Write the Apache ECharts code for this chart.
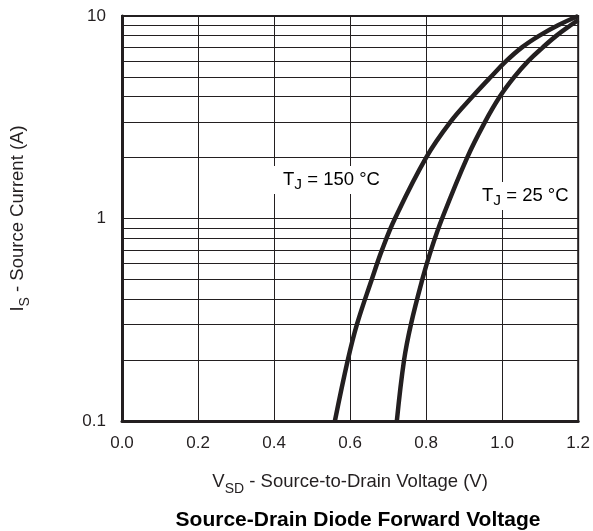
<!DOCTYPE html>
<html>
<head>
<meta charset="utf-8">
<script src="https://cdn.jsdelivr.net/npm/echarts@6/dist/echarts.min.js"></script>
<style>html,body{margin:0;padding:0;background:#fff;}#c{width:593px;height:531px;}</style>
</head>
<body>
<div id="c"></div>
<script>
// Data
const current150 = [0.1,0.2,0.3,0.5,0.7,1,2,3,4,5,6,7,8,9,10];
const voltage150 = [0.56,0.594,0.618,0.657,0.684,0.718,0.800,0.864,0.922,0.970,1.011,1.052,1.098,1.147,1.2];
const current25 = [0.1,0.2,0.3,0.5,0.7,1,2,3,4,5,6,7,8,9,9.55];
const voltage25 = [0.723,0.742,0.760,0.790,0.813,0.842,0.908,0.955,0.994,1.032,1.069,1.107,1.143,1.180,1.2];
const xTicks = ['0.0','0.2','0.4','0.6','0.8','1.0','1.2'];
const yTicks = ['0.1','1','10'];
const minorGrid = [0.2,0.3,0.4,0.5,0.6,0.7,0.8,0.9,2,3,4,5,6,7,8,9];
const seriesNames = ['TJ = 150 °C','TJ = 25 °C'];

const FONT = 'Liberation Sans, Arial, Helvetica, sans-serif';
const INK = '#231f20';
const chart = echarts.init(document.getElementById('c'), null, {renderer:'canvas'});
const pairs = (xs, ys) => xs.map((x,i)=>[x, ys[i]]);
const axisRich = {
  n:{fontFamily:FONT,fontSize:18.5,color:INK},
  s:{fontFamily:FONT,fontSize:14,color:INK,padding:[14,0,0,0]}
};
const labelRich = {
  n:{fontFamily:FONT,fontSize:18.5,color:INK},
  s:{fontFamily:FONT,fontSize:15.5,color:INK,padding:[10,0,0,0]}
};
chart.setOption({
  animation:false,
  backgroundColor:'#fff',
  title:{text:'Source-Drain Diode Forward Voltage',left:353,top:505,textAlign:'center',
    textStyle:{fontFamily:FONT,fontSize:21,fontWeight:'bold',color:'#000'}},
  grid:{left:122,right:8,top:16,bottom:110,show:true,borderColor:INK,borderWidth:2,containLabel:false},
  xAxis:{type:'value',min:0,max:1.2,interval:0.2,
    name:'{n|V}{s|SD}{n| - Source-to-Drain Voltage (V)}',nameLocation:'middle',nameGap:47,
    nameTextStyle:{rich:axisRich},
    axisLine:{show:true,onZero:false,lineStyle:{color:INK,width:3}},
    axisTick:{show:false},
    axisLabel:{margin:14,fontFamily:FONT,fontSize:17,color:INK,
      formatter:(v)=>xTicks[Math.round(v/0.2)]},
    splitLine:{show:true,lineStyle:{color:INK,width:1}}},
  yAxis:{type:'log',logBase:10,min:0.1,max:10,
    name:'{n|I}{s|S}{n| - Source Current (A)}',nameLocation:'middle',nameGap:90,nameRotate:90,
    nameTextStyle:{rich:axisRich},
    axisLine:{show:true,onZero:false,lineStyle:{color:INK,width:3}},
    axisTick:{show:false},
    minorTick:{show:false},
    axisLabel:{margin:16,fontFamily:FONT,fontSize:17,color:INK,
      formatter:(v)=>{const k=Math.round(Math.log10(v))+1;return yTicks[k]!==undefined?yTicks[k]:'';}},
    splitLine:{show:true,lineStyle:{color:INK,width:1}}},
  series:[
    {type:'line',name:'grid',data:[],z:1,silent:true,
      markLine:{silent:true,symbol:['none','none'],label:{show:false},animation:false,
        lineStyle:{color:INK,width:1,type:'solid'},
        data:minorGrid.map(v=>({yAxis:v}))}},
    {type:'line',name:seriesNames[0],data:pairs(voltage150,current150),smooth:0.4,showSymbol:false,z:5,
      lineStyle:{color:INK,width:4.5}},
    {type:'line',name:seriesNames[1],data:pairs(voltage25,current25),smooth:0.4,showSymbol:false,z:5,
      lineStyle:{color:INK,width:4.5}}
  ],
  graphic:[
    {type:'text',x:273,y:180,z:10,style:{text:'{n|T}{s|J}{n| = 150 °C}',rich:labelRich,
      backgroundColor:'#fff',padding:[1,6,1,10],verticalAlign:'middle'}},
    {type:'text',x:475,y:196,z:10,style:{text:'{n|T}{s|J}{n| = 25 °C}',rich:labelRich,
      backgroundColor:'#fff',padding:[1,3,1,7],verticalAlign:'middle'}}
  ]
});
</script>
</body>
</html>
